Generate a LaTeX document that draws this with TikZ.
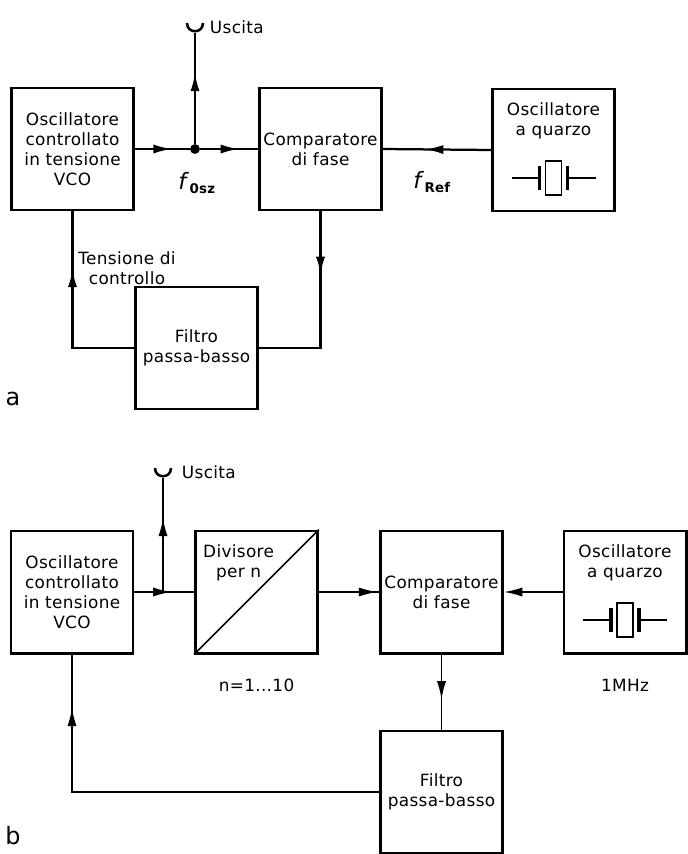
\documentclass[tikz,border=0pt]{standalone}
\usepackage{fontspec}
\setmainfont{DejaVu Sans}[LetterSpace=2]
\usetikzlibrary{positioning,arrows.meta,calc,decorations.markings}
\tikzset{
  blk/.style={draw,line width=2.1pt,minimum width=3.05cm,minimum height=3.05cm,inner sep=0pt,align=center},
  wire/.style={line width=1.6pt},
  thinwire/.style={line width=1.2pt},
  midtip/.style={postaction={decorate,decoration={markings,mark=at position #1 with {\arrow{Latex[length=13pt,width=6.5pt]}}}}},
  dot/.style={circle,fill,inner sep=0pt,minimum size=7pt},
}
\newcommand\quarz[1]{%
  \begin{scope}[shift={($(#1.center)+(0,28)$)}]
    \draw[line width=1.3pt] (-8,-17) rectangle (8,17);
    \draw[line width=2.6pt] (-14,-12) -- (-14,12) (14,-12) -- (14,12);
    \draw[line width=1.2pt] (-42,0) -- (-14,0) (14,0) -- (42,0);
  \end{scope}}
\newcommand\fork[1]{%
  \draw[line width=1.8pt] ($(#1)+(-8,-10)$) .. controls ($(#1)+(-8,1)$) and ($(#1)+(8,1)$) .. ($(#1)+(8,-10)$);}
\newcommand\freqlbl[1]{{\fontsize{16}{16}\selectfont\textit{f}}\raisebox{-3pt}{\fontsize{9.5}{9.5}\selectfont\textbf{#1}}}

\begin{document}
\begin{tikzpicture}[x=0.025cm,y=-0.025cm,font=\fontsize{12}{14.2}\selectfont]
  \useasboundingbox (0,0) rectangle (688,854);
  \foreach \n/\x/\y/\t in {vcoA/72.5/149/{Oscillatore\\controllato\\in tensione\\VCO},
      compA/320.5/149/{Comparatore\\di fase},quarzA/553.5/150/{},filtA/196.5/348/{Filtro\\passa-basso},
      vcoB/72/592/{Oscillatore\\controllato\\in tensione\\VCO},divB/256.5/592/{},
      compB/441.5/592/{Comparatore\\di fase},quarzB/625/592/{},filtB/441.5/792/{Filtro\\passa-basso}}
    {\node[blk] (\n) at (\x,\y) {\t};}

  \node[below=7pt of quarzA.north,align=center] (quarzAt) {Oscillatore\\a quarzo};
  \quarz{quarzA}
  \node[dot] (jA) at (195,149) {};
  \coordinate (outA) at (195,33);
  \draw[wire,midtip=0.67] (vcoA.east) -- (jA);
  \draw[wire,midtip=0.67] (jA) -- (compA.west);
  \draw[wire,midtip=0.64] (jA) -- (outA);
  \fork{outA}
  \node[anchor=west] (usA) at (205,27) {Uscita};
  \node (fosz) at (197,183) {\freqlbl{0sz}};
  \draw[wire,midtip=0.61] (quarzA.west) -- (compA.east);
  \node (fref) at (432,182) {\freqlbl{Ref}};
  \draw[wire,midtip=0.71] (filtA.west) -| (vcoA.south);
  \draw[wire,midtip=0.32] (compA.south) |- (filtA.east);
  \node[align=center] (tens) at (127,268) {Tensione di\\controllo};
  \node[font=\fontsize{17}{17}\selectfont] (labA) at (13,399) {a};

  \node[below=7pt of quarzB.north,align=center] (quarzBt) {Oscillatore\\a quarzo};
  \quarz{quarzB}
  \draw[thinwire] (divB.south west) -- (divB.north east);
  \node[below right=7pt and 3pt of divB.north west,align=center] (divBt) {Divisore\\per n};
  \coordinate (jB) at (163,592);
  \coordinate (outB) at (163,478);
  \draw[thinwire,midtip=0.62] (vcoB.east) -- (divB.west);
  \draw[thinwire,midtip=0.65] (jB) -- (outB);
  \fork{outB}
  \node[anchor=west] (usB) at (177,472) {Uscita};
  \draw[thinwire,midtip=0.97] (divB.east) -- (compB.west);
  \draw[thinwire,-{Latex[length=13pt,width=6.5pt]}] (quarzB.west) -- (compB.east);
  \draw[thinwire,midtip=0.6] (compB.south) -- (filtB.north);
  \draw[thinwire,midtip=0.88] (filtB.west) -| (vcoB.south);
  \node[below=14pt of divB] (nrng) {n=1...10};
  \node[below=14pt of quarzB] (freq) {1MHz};
  \node[font=\fontsize{17}{17}\selectfont] (labB) at (13,836) {b};
\end{tikzpicture}
\end{document}
